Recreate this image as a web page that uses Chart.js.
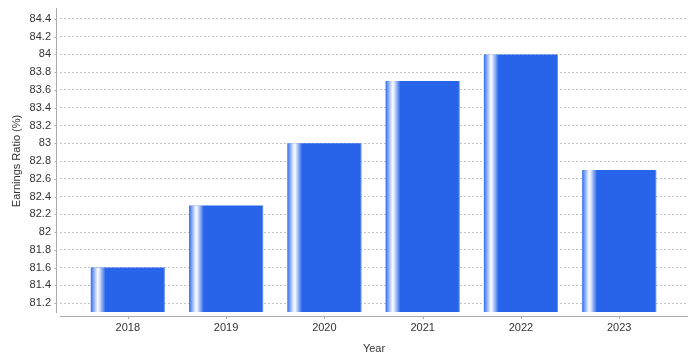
<!DOCTYPE html>
<html>
<head>
<meta charset="utf-8">
<script src="https://cdn.jsdelivr.net/npm/chart.js@4.4.1/dist/chart.umd.min.js"></script>
<style>
  html, body { margin: 0; padding: 0; background: #ffffff; }
  #wrap { width: 700px; height: 360px; position: relative; }
</style>
</head>
<body>
<div id="wrap"><canvas id="c" width="700" height="360"></canvas></div>
<script>
const categories = ['2018', '2019', '2020', '2021', '2022', '2023'];
const earningsRatio = [81.6, 82.3, 83.0, 83.7, 84.0, 82.7];
const yTickValues = [81.2, 81.4, 81.6, 81.8, 82, 82.2, 82.4, 82.6, 82.8, 83, 83.2, 83.4, 83.6, 83.8, 84, 84.2, 84.4];

const BAR_COLOR = '#2764EA';
const AXIS_COLOR = '#ababab';
const FONT = "'Liberation Sans', Arial, sans-serif";

const axisPlugin = {
  id: 'jfAxes',
  afterDatasetsDraw(chart) {
    const ctx = chart.ctx;
    const meta = chart.getDatasetMeta(0);
    ctx.save();
    meta.data.forEach(el => {
      const w = el.width;
      const left = el.x - w / 2;
      const top = Math.min(el.y, el.base);
      const h = Math.abs(el.base - el.y);
      const hw = w * 0.2;
      const g = ctx.createLinearGradient(left, 0, left + hw, 0);
      g.addColorStop(0, 'rgba(255,255,255,0.05)');
      g.addColorStop(0.45, 'rgba(255,255,255,0.95)');
      g.addColorStop(0.55, 'rgba(255,255,255,0.9)');
      g.addColorStop(1, 'rgba(255,255,255,0)');
      ctx.fillStyle = g;
      ctx.fillRect(left, top, hw, h);
      ctx.fillStyle = 'rgba(255,255,255,0.3)';
      ctx.fillRect(left + w - 1, top, 1, h);
    });
    ctx.restore();
  },
  afterDraw(chart) {
    const ctx = chart.ctx;
    const a = chart.chartArea;
    const ys = chart.scales.y;
    const xs = chart.scales.x;
    ctx.save();
    ctx.strokeStyle = AXIS_COLOR;
    ctx.lineWidth = 1;
    ctx.beginPath();
    ctx.moveTo(a.left - 3.5, a.top - 2);
    ctx.lineTo(a.left - 3.5, a.bottom + 1);
    yTickValues.forEach(v => {
      const y = Math.round(ys.getPixelForValue(v)) + 0.5;
      ctx.moveTo(a.left - 5.5, y);
      ctx.lineTo(a.left - 3.5, y);
    });
    ctx.moveTo(a.left, a.bottom + 4.5);
    ctx.lineTo(a.right, a.bottom + 4.5);
    categories.forEach((c, i) => {
      const x = Math.round(xs.getPixelForValue(i)) + 0.5;
      ctx.moveTo(x, a.bottom + 4.5);
      ctx.lineTo(x, a.bottom + 7);
    });
    ctx.stroke();
    ctx.restore();
  }
};

new Chart(document.getElementById('c'), {
  type: 'bar',
  data: {
    datasets: [{
      label: 'Earnings Ratio (%)',
      data: earningsRatio.map((v, i) => ({ x: i, y: v })),
      backgroundColor: BAR_COLOR,
      borderWidth: 0,
      categoryPercentage: 1.0,
      barPercentage: 0.754
    }]
  },
  options: {
    responsive: false,
    animation: false,
    layout: { padding: { left: 0, right: 12, top: 10, bottom: 0 } },
    plugins: {
      legend: { display: false },
      tooltip: { enabled: false }
    },
    scales: {
      x: {
        type: 'linear',
        offset: false,
        min: -0.69,
        max: 5.70,
        afterBuildTicks(scale) {
          scale.ticks = categories.map((c, i) => ({ value: i }));
        },
        afterFit(scale) { scale.height = 48; scale.paddingLeft = 0; scale.paddingRight = 0; },
        grid: { display: false, drawTicks: false },
        border: { display: false },
        ticks: {
          autoSkip: false,
          maxRotation: 0,
          padding: 9,
          color: '#333333',
          font: { family: FONT, size: 11 },
          callback(v) { return categories[v]; }
        },
        title: {
          display: true,
          text: 'Year',
          color: '#333333',
          font: { family: FONT, size: 11 },
          padding: { top: 2, bottom: 4 }
        }
      },
      y: {
        type: 'linear',
        min: 81.1,
        max: 84.5,
        afterBuildTicks(scale) {
          scale.ticks = yTickValues.map(v => ({ value: v }));
        },
        afterFit(scale) { scale.width = 60; scale.paddingTop = 0; scale.paddingBottom = 0; },
        grid: {
          color: '#c4c4c4',
          lineWidth: 1,
          drawTicks: false
        },
        border: { display: false, dash: [2, 2] },
        ticks: {
          padding: 9,
          color: '#333333',
          font: { family: FONT, size: 11 },
          callback(v) { return String(Math.round(v * 10) / 10); }
        },
        title: {
          display: true,
          text: 'Earnings Ratio (%)',
          color: '#333333',
          font: { family: FONT, size: 11 },
          padding: { top: 10, bottom: 4 }
        }
      }
    }
  },
  plugins: [axisPlugin]
});
</script>
</body>
</html>
